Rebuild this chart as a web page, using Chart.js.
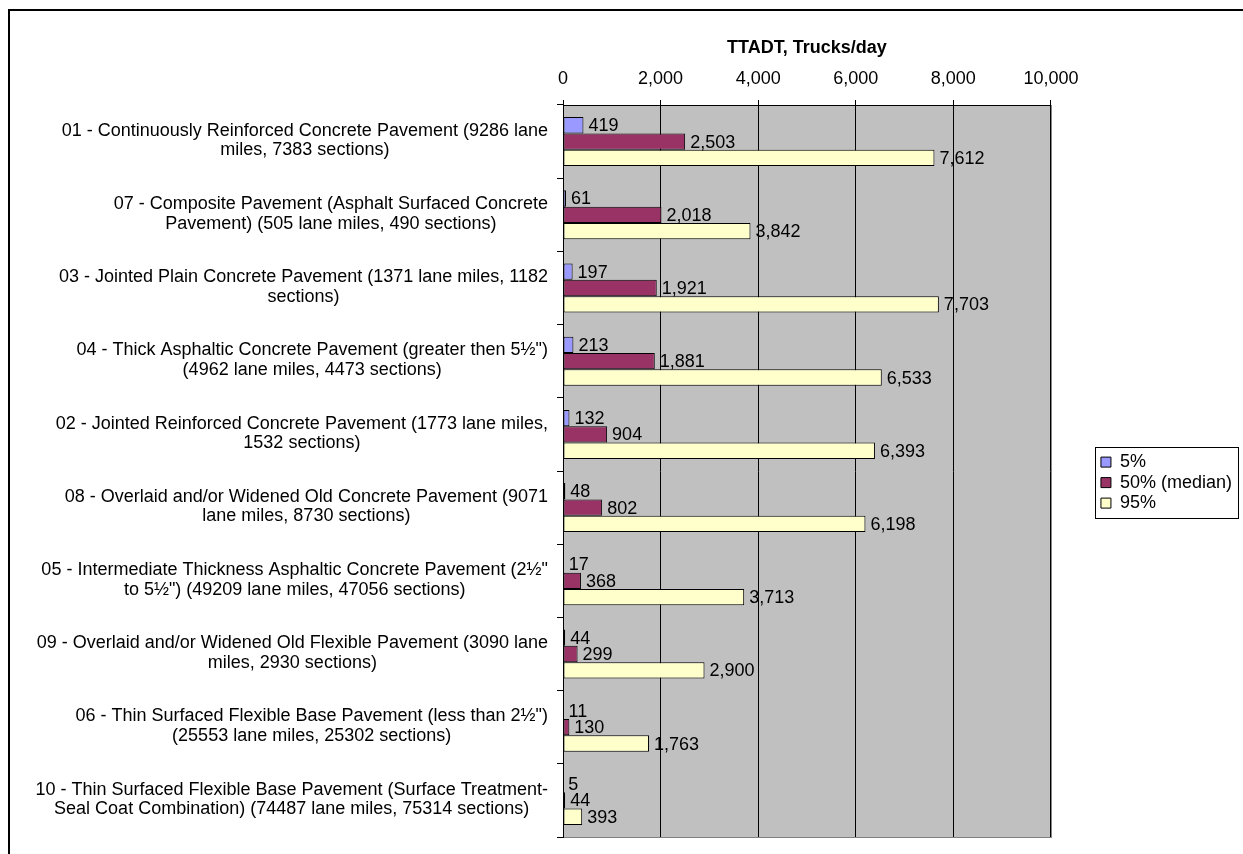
<!DOCTYPE html>
<html>
<head>
<meta charset="utf-8">
<script src="https://cdn.jsdelivr.net/npm/chart.js@4.4.1/dist/chart.umd.min.js"></script>
<style>
  body { margin: 0; background: #ffffff; }
  #wrap { width: 1243px; height: 854px; position: relative; }
</style>
</head>
<body>
<div id="wrap"><canvas id="ttadtChart"></canvas></div>
<script>
// Pavement types (label lines as they wrap in the original)
const categories = [
    ['01 - Continuously Reinforced Concrete Pavement (9286 lane', 'miles, 7383 sections)'],
    ['07 - Composite Pavement (Asphalt Surfaced Concrete', 'Pavement) (505 lane miles, 490 sections)'],
    ['03 - Jointed Plain Concrete Pavement (1371 lane miles, 1182', 'sections)'],
    ['04 - Thick Asphaltic Concrete Pavement (greater then 5\u00bd")', '(4962 lane miles, 4473 sections)'],
    ['02 - Jointed Reinforced Concrete Pavement (1773 lane miles,', '1532 sections)'],
    ['08 - Overlaid and/or Widened Old Concrete Pavement (9071', 'lane miles, 8730 sections)'],
    ['05 - Intermediate Thickness Asphaltic Concrete Pavement (2\u00bd"', 'to 5\u00bd") (49209 lane miles, 47056 sections)'],
    ['09 - Overlaid and/or Widened Old Flexible Pavement (3090 lane', 'miles, 2930 sections)'],
    ['06 - Thin Surfaced Flexible Base Pavement (less than 2\u00bd")', '(25553 lane miles, 25302 sections)'],
    ['10 - Thin Surfaced Flexible Base Pavement (Surface Treatment-', 'Seal Coat Combination) (74487 lane miles, 75314 sections)']
];

// TTADT percentiles, trucks/day
const p5 = [419, 61, 197, 213, 132, 48, 17, 44, 11, 5];
const p50 = [2503, 2018, 1921, 1881, 904, 802, 368, 299, 130, 44];
const p95 = [7612, 3842, 7703, 6533, 6393, 6198, 3713, 2900, 1763, 393];

const seriesNames = ['5%', '50% (median)', '95%'];
const xTickValues = [0, 2000, 4000, 6000, 8000, 10000];

const FONT = 'Liberation Sans, Arial, sans-serif';
const FS = 18;
Chart.defaults.font.family = FONT;
Chart.defaults.font.size = FS;
Chart.defaults.color = '#000000';

const fmt = v => String(v).replace(/\B(?=(\d{3})+(?!\d))/g, ',');

// white page, outer chart border, grey plot area
const backdrop = {
    id: 'backdrop',
    beforeDraw(chart) {
        const ctx = chart.ctx;
        const a = chart.chartArea;
        ctx.save();
        ctx.fillStyle = '#ffffff';
        ctx.fillRect(0, 0, chart.width, chart.height);
        ctx.strokeStyle = '#000000';
        ctx.lineWidth = 2;
        ctx.strokeRect(9, 10, chart.width + 50, chart.height + 50);
        ctx.fillStyle = '#c0c0c0';
        ctx.fillRect(a.left, a.top, a.right - a.left, a.bottom - a.top);
        ctx.strokeStyle = '#808080';
        ctx.lineWidth = 1;
        ctx.strokeRect(a.left + 0.5, a.top + 0.5, a.right - a.left, a.bottom - a.top);
        ctx.restore();
    }
};

// category labels: lines centred on each other, block right-aligned to the axis
const categoryLabels = {
    id: 'categoryLabels',
    afterDraw(chart) {
        const ctx = chart.ctx;
        const ys = chart.scales.y;
        ctx.save();
        ctx.font = FS + 'px ' + FONT;
        ctx.fillStyle = '#000000';
        ctx.textAlign = 'center';
        ctx.textBaseline = 'middle';
        categories.forEach((lines, i) => {
            const cy = ys.getPixelForTick(i);
            const w = Math.max(...lines.map(l => ctx.measureText(l).width));
            const cx = ys.right - 15 - w / 2;
            lines.forEach((l, j) => {
                ctx.fillText(l, cx, cy - 1 + (j - (lines.length - 1) / 2) * 19.5);
            });
        });
        ctx.restore();
    }
};

// value labels to the right of every bar
const valueLabels = {
    id: 'valueLabels',
    afterDatasetsDraw(chart) {
        const ctx = chart.ctx;
        ctx.save();
        ctx.font = FS + 'px ' + FONT;
        ctx.fillStyle = '#000000';
        ctx.textAlign = 'left';
        ctx.textBaseline = 'middle';
        chart.data.datasets.forEach((ds, i) => {
            chart.getDatasetMeta(i).data.forEach((bar, j) => {
                ctx.fillText(fmt(ds.data[j]), bar.x + 5, bar.y + 1);
            });
        });
        ctx.restore();
    }
};

// frame round the legend
const legendFrame = {
    id: 'legendFrame',
    afterDraw(chart) {
        const hb = chart.legend.legendHitBoxes;
        if (!hb || !hb.length) return;
        const ctx = chart.ctx;
        const left = hb[0].left - 6;
        const top = hb[0].top - 6;
        const last = hb[hb.length - 1];
        const bottom = last.top + last.height + 6;
        const right = Math.max(...hb.map(h => h.left + h.width)) + 6;
        ctx.save();
        ctx.strokeStyle = '#000000';
        ctx.lineWidth = 1;
        ctx.strokeRect(Math.round(left) + 0.5, Math.round(top) + 0.5, Math.round(right - left), Math.round(bottom - top));
        ctx.restore();
    }
};

new Chart(document.getElementById('ttadtChart').getContext('2d'), {
    type: 'bar',
    data: {
        labels: categories,
        datasets: [
            { label: seriesNames[0], data: p5, backgroundColor: '#9999ff' },
            { label: seriesNames[1], data: p50, backgroundColor: '#993366' },
            { label: seriesNames[2], data: p95, backgroundColor: '#ffffcc' }
        ].map(d => Object.assign(d, {
            borderColor: '#000000',
            borderWidth: 1,
            borderSkipped: false,
            barPercentage: 1,
            categoryPercentage: 0.67,
            yAxisID: 'y'
        }))
    },
    options: {
        indexAxis: 'y',
        responsive: true,
        maintainAspectRatio: false,
        animation: false,
        layout: { padding: { left: 0, top: 0, right: 1, bottom: 17 } },
        plugins: {
            tooltip: { enabled: false },
            legend: {
                position: 'right',
                fullSize: false,
                title: { display: true, text: ' ', font: { size: 16 }, padding: { top: 2, bottom: 2 } },
                labels: {
                    boxWidth: 10,
                    boxHeight: 10,
                    padding: 2.5,
                    color: '#000000',
                    font: { size: FS }
                }
            }
        },
        scales: {
            x: {
                position: 'top',
                min: xTickValues[0],
                max: xTickValues[xTickValues.length - 1],
                afterFit: s => { s.height = 105; },
                afterBuildTicks: s => { s.ticks = xTickValues.map(v => ({ value: v })); },
                ticks: {
                    padding: 10,
                    color: '#000000',
                    font: { size: FS },
                    callback: v => fmt(v)
                },
                grid: { color: '#000000', tickLength: 5, drawTicks: true },
                border: { color: '#000000', width: 1 },
                title: {
                    display: true,
                    text: 'TTADT, Trucks/day',
                    color: '#000000',
                    font: { size: FS, weight: 'bold' },
                    padding: { top: 37, bottom: 0 }
                }
            },
            y: {
                position: 'left',
                afterFit: s => { s.width = 563; },
                ticks: { display: false },
                grid: { color: '#000000', drawOnChartArea: false, drawTicks: true, tickLength: 6, offset: true },
                border: { color: '#000000', width: 1 }
            },
            y2: {
                type: 'category',
                position: 'right',
                afterFit: s => { s.width = 47.5; },
                ticks: { display: false },
                grid: { display: false },
                border: { display: false }
            }
        }
    },
    plugins: [backdrop, categoryLabels, valueLabels, legendFrame]
});
</script>
</body>
</html>
